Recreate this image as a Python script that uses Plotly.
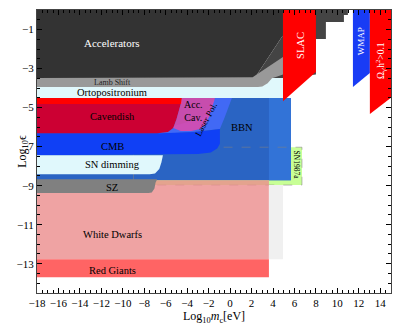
import plotly.graph_objects as go

# exclusion regions, vertices in (log10 m [eV], log10 epsilon)
sn1987_x = [-9, 6.7, 6.7, -9]
sn1987_y = [-7.03, -7.03, -8.97, -8.97]
bbn_x = [-18, 5.67, 5.67, -18]
bbn_y = [-4.51, -4.51, -8.72, -8.72]
bbn_edge_x = [3.62, 5.67, 5.67, 3.62]
bbn_edge_y = [-4.51, -4.51, -8.72, -8.72]
laser_x = [-1.41, 0.17, -0.5, -0.95, -3.0, -6.8, -5.0, -2.5]
laser_y = [-4.51, -4.51, -5.5, -6.1, -6.22, -6.37, -5.9, -5.5]
cmb_x = [-18, -6.5, -3.2, -0.95, -0.95, -1.2, -1.8, -3.0, -18]
cmb_y = [-6.31, -6.31, -6.25, -6.1, -6.85, -7.1, -7.3, -7.38, -7.44]
cav_x = [-18, -4.6, -5.0, -5.3, -5.8, -6.8, -18]
cav_y = [-4.82, -4.82, -5.6, -6.05, -6.25, -6.31, -6.31]
cav_top_x = [-18, -4.5, -4.5, -18]
cav_top_y = [-4.51, -4.51, -4.82, -4.82]
acccav_x = [-4.5, -1.41, -1.9, -2.3, -2.8, -3.6, -4.6, -5.3, -5.0, -4.6]
acccav_y = [-4.51, -4.51, -5.4, -5.85, -6.1, -6.2, -6.2, -6.05, -5.6, -4.82]
orto_x = [-18, 4.93, 4.93, -18]
orto_y = [-3.49, -3.49, -4.51, -4.51]
acc_dark_x = [-18, 4.93, 4.93, 2.3, -18]
acc_dark_y = [0, 0, -1.3, -3.49, -3.49]
acc_light_x = [2.3, 4.93, 4.93, 10.98, 10.98, 10.61, 10.61, 8.93, 8.93, 8.0, 8.0, 4.93]
acc_light_y = [-3.49, -1.3, 0, 0, -0.25, -0.25, -0.62, -0.62, -1.49, -1.49, -3.3, -3.49]
lamb_x = [-18, 2.1, 4.93, 4.93, 4.2, 3.9, 3.5, 3.0, 2.6, -18]
lamb_y = [-3.49, -3.45, -2.41, -3.3, -3.45, -3.5, -3.75, -3.92, -3.95, -3.95]
sndim_x = [-18, -6.26, -6.4, -6.6, -7.0, -7.5, -18]
sndim_y = [-7.44, -7.44, -7.8, -8.15, -8.38, -8.41, -8.41]
wd_x = [-18, 3.62, 3.62, -18]
wd_y = [-8.72, -8.72, -12.77, -12.77]
sz_x = [-18, -6.8, -6.95, -7.05, -7.3, -7.6, -18]
sz_y = [-8.67, -8.67, -8.85, -9.15, -9.35, -9.38, -9.38]
rg_x = [-18, 3.62, 3.62, -18]
rg_y = [-12.77, -12.77, -13.69, -13.69]
gray_x = [3.62, 4.93, 4.93, 3.62]
gray_y = [-8.97, -8.97, -12.77, -12.77]
slac_x = [4.93, 8.0, 8.0, 4.93]
slac_y = [0, 0, -3.18, -4.67]
wmap_x = [11.45, 13.03, 13.03, 11.45]
wmap_y = [0, 0, -3.23, -3.95]
omega_x = [13.03, 15, 15, 13.03]
omega_y = [0, 0, -4.5, -5.33]

x_ticks = list(range(-18, 15, 2))
x_labels = ["−18", "−16", "−14", "−12", "−10", "−8", "−6", "−4", "−2",
            "0", "2", "4", "6", "8", "10", "12", "14"]
y_ticks = [-13, -11, -9, -7, -5, -3, -1]
y_labels = ["−13", "−11", "−9", "−7", "−5", "−3", "−1"]

regions = [
    (sn1987_x, sn1987_y, "rgb(200,255,150)"),
    (bbn_x, bbn_y, "rgb(42,100,195)"),
    (bbn_edge_x, bbn_edge_y, "rgb(50,115,215)"),
    "sn_border",
    (laser_x, laser_y, "rgb(65,105,245)"),
    (cmb_x, cmb_y, "rgb(16,64,245)"),
    (cav_x, cav_y, "rgb(204,0,51)"),
    (cav_top_x, cav_top_y, "rgb(255,0,0)"),
    (acccav_x, acccav_y, "rgba(231,72,168,0.83)"),
    (orto_x, orto_y, "rgb(224,248,252)"),
    (acc_dark_x, acc_dark_y, "rgb(51,51,51)"),
    (acc_light_x, acc_light_y, "rgb(68,68,68)"),
    (lamb_x, lamb_y, "rgb(153,153,153)"),
    (sndim_x, sndim_y, "rgb(224,248,252)"),
    (wd_x, wd_y, "rgba(235,140,140,0.8)"),
    (sz_x, sz_y, "rgb(128,128,128)"),
    (rg_x, rg_y, "rgb(255,100,100)"),
    (gray_x, gray_y, "rgb(240,240,240)"),
    (slac_x, slac_y, "rgb(255,0,0)"),
    (wmap_x, wmap_y, "rgb(25,60,245)"),
    (omega_x, omega_y, "rgb(255,0,0)"),
]

fig = go.Figure()
for reg in regions:
    if reg == "sn_border":
        # dashed outline of the SN1987a box, mostly hidden by the regions above it
        fig.add_trace(go.Scatter(x=sn1987_x + sn1987_x[:1], y=sn1987_y + sn1987_y[:1], mode="lines",
                                 line=dict(color="rgba(130,130,130,0.55)", width=1, dash="dash"),
                                 hoverinfo="skip", showlegend=False))
        continue
    xs, ys, col = reg
    fig.add_trace(go.Scatter(x=xs, y=ys, fill="toself", fillcolor=col, mode="lines",
                             line=dict(width=0, color=col), hoverinfo="skip", showlegend=False))

serif = "Liberation Serif"
labels = [
    ("Accelerators", -11.0, -1.7, 11, "white", 0),
    ("Lamb Shift", -11.0, -3.74, 8, "#222", 0),
    ("Ortopositronium", -11.0, -4.25, 10.5, "black", 0),
    ("Cavendish", -11.0, -5.45, 10.5, "black", 0),
    ("Acc.<br>Cav.", -3.4, -5.15, 10, "black", 0),
    ("Laser Pol.", -2.2, -5.6, 9, "black", -62),
    ("BBN", 1.1, -6.0, 10.5, "black", 0),
    ("CMB", -11.0, -6.97, 10.5, "black", 0),
    ("SN dimming", -11.0, -7.92, 10.5, "black", 0),
    ("SZ", -11.0, -9.08, 10.5, "black", 0),
    ("White Dwarfs", -11.0, -11.5, 10.5, "black", 0),
    ("Red Giants", -11.0, -13.33, 10.5, "black", 0),
    ("SN1987a", 6.2, -7.95, 7.5, "black", 90),
    ("SLAC", 6.5, -1.8, 10.5, "white", -90),
    ("WMAP", 12.2, -1.6, 9, "white", -90),
    ("Ω<sub>γ'</sub>h<sup>2</sup>>0.1", 14.0, -2.6, 9.5, "white", -90),
]
for text, x, y, size, col, ang in labels:
    fig.add_annotation(x=x, y=y, text=text, showarrow=False, textangle=ang,
                       font=dict(family=serif, size=size, color=col))

fig.add_annotation(xref="paper", yref="paper", x=-0.07, y=0.5, text="Log<sub>10</sub>ϵ",
                   textangle=-90, showarrow=False, font=dict(family=serif, size=12, color="black"))
fig.add_annotation(xref="paper", yref="paper", x=0.5, y=-0.085, text="Log<sub>10</sub><i>m</i><sub>c</sub>[eV]",
                   showarrow=False, yanchor="middle", font=dict(family=serif, size=12, color="black"))

axis_common = dict(ticks="inside", ticklen=5, tickcolor="black", tickwidth=1, automargin=False,
                   showline=True, linecolor="#444", linewidth=1, mirror="allticks",
                   showgrid=False, zeroline=False, tickfont=dict(family=serif, size=11, color="black"))

fig.update_xaxes(range=[-18, 15], tickmode="array", tickvals=x_ticks, ticktext=x_labels,
                 minor=dict(tickmode="linear", tick0=0, dtick=0.5, ticks="inside", ticklen=3, tickcolor="black"),
                 **axis_common)
fig.update_yaxes(range=[-14.5, 0], tickmode="array", tickvals=y_ticks, ticktext=y_labels,
                 minor=dict(tickmode="linear", tick0=0, dtick=0.5, ticks="inside", ticklen=3, tickcolor="black"),
                 **axis_common)

fig.update_layout(width=393, height=326, margin=dict(l=37, r=2, t=10, b=33),
                  plot_bgcolor="white", paper_bgcolor="white")

# drop the browser's default page margin so the figure fills the window
fig.write_html("out.html", config={"displayModeBar": False},
               post_script="document.body.style.margin='0';")
